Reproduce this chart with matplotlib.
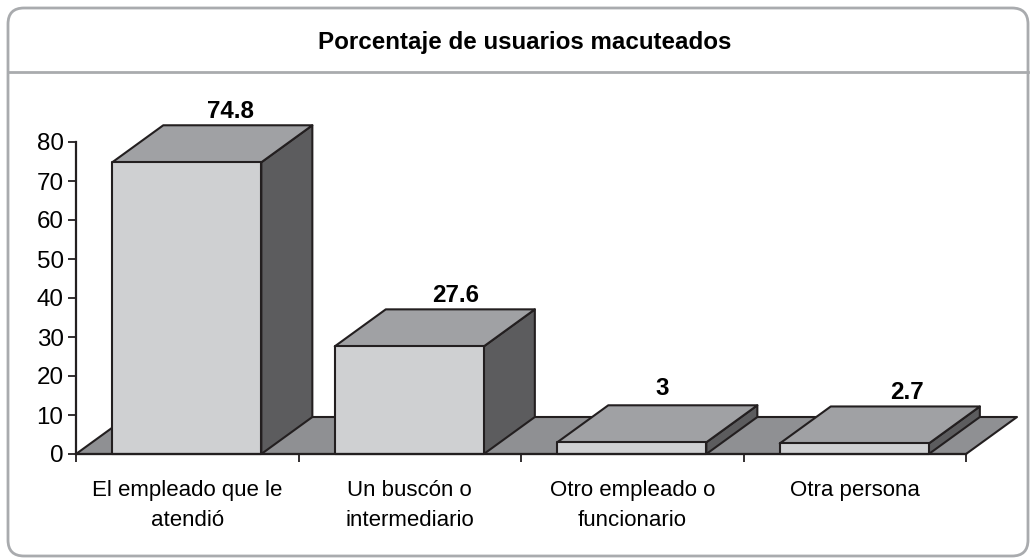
import matplotlib
matplotlib.use("Agg")
import matplotlib.pyplot as plt
from matplotlib.patches import FancyBboxPatch, Polygon

plt.rcParams['font.family'] = ['Liberation Sans', 'DejaVu Sans']

title = "Porcentaje de usuarios macuteados"
categories = ["El empleado que le\natendió", "Un buscón o\nintermediario",
              "Otro empleado o\nfuncionario", "Otra persona"]
values = [74.8, 27.6, 3, 2.7]
labels = ["74.8", "27.6", "3", "2.7"]
yticks = [0, 10, 20, 30, 40, 50, 60, 70, 80]

W, H = 1031, 559
edge = "#231f20"
front_c = "#cfd0d2"
top_c = "#a0a1a4"
side_c = "#5c5c5e"
floor_c = "#8f9093"
frame_c = "#a9abae"

fig = plt.figure(figsize=(W / 100, H / 100), dpi=100, facecolor="white")

# frame in pixel coords
bg = fig.add_axes([0, 0, 1, 1])
bg.set_xlim(0, W)
bg.set_ylim(H, 0)
bg.axis("off")
bg.add_patch(FancyBboxPatch((8 + 16, 8 + 16), 1020 - 32, 548 - 32,
                            boxstyle="round,pad=16,rounding_size=16",
                            fc="white", ec=frame_c, lw=2))
bg.plot([8, 1028], [72, 72], color=frame_c, lw=2)
bg.text(525, 43, title, ha="center", va="center", fontsize=17.4, fontweight="bold", color="black")

# plot area
x0, x1, y0, y1 = 76, 966, 454, 142
ax = fig.add_axes([x0 / W, 1 - y0 / H, (x1 - x0) / W, (y0 - y1) / H])
ax.patch.set_alpha(0)
ax.set_xlim(0, len(values))
ax.set_ylim(0, 80)

bar_w = 0.67
gap = 0.163
dx = 51 / 222.5
dy = 37 / 3.9


def poly(pts, color, z):
    ax.add_patch(Polygon(pts, closed=True, fc=color, ec=edge, lw=1.5, zorder=z,
                         clip_on=False, joinstyle="round"))


n = len(values)
poly([(0, 0), (n, 0), (n + dx, dy), (dx, dy)], floor_c, 1)

for i, v in enumerate(values):
    a = i + gap
    b = a + bar_w
    poly([(b, 0), (b + dx, dy), (b + dx, v + dy), (b, v)], side_c, 2)
    poly([(a, v), (b, v), (b + dx, v + dy), (a + dx, v + dy)], top_c, 2)
    poly([(a, 0), (b, 0), (b, v), (a, v)], front_c, 3)

# value labels, a few sit off the usual spot
nudge = [-0.006, 0.003, -0.067, 0.034]
raise_px = [0, 0, 0.8, 0]
for i, v in enumerate(values):
    ax.text(i + gap + bar_w / 2 + dx * 0.89 + nudge[i], v + dy + 3.6 + raise_px[i], labels[i],
            ha="center", va="center", fontsize=17.4, fontweight="bold", color="black", zorder=5)

for s in ("top", "right"):
    ax.spines[s].set_visible(False)
for s in ("left", "bottom"):
    ax.spines[s].set_linewidth(1.6)
    ax.spines[s].set_color(edge)
    ax.spines[s].set_zorder(6)

ax.set_yticks(yticks)
ax.set_yticklabels([str(t) for t in yticks], fontsize=17.4, color="black")
ax.tick_params(axis="y", length=6, width=1.3, color=edge, pad=3)
ax.set_xticks(range(n + 1))
ax.set_xticklabels([])
ax.tick_params(axis="x", length=6, width=1.3, color=edge)
ax.set_xticks([i + 0.5 for i in range(n)], minor=True)
ax.set_xticklabels(categories, minor=True, fontsize=16, linespacing=1.6, color="black")
ax.tick_params(axis="x", which="minor", length=0, pad=18.5)

fig.savefig("out.png", dpi=100)
